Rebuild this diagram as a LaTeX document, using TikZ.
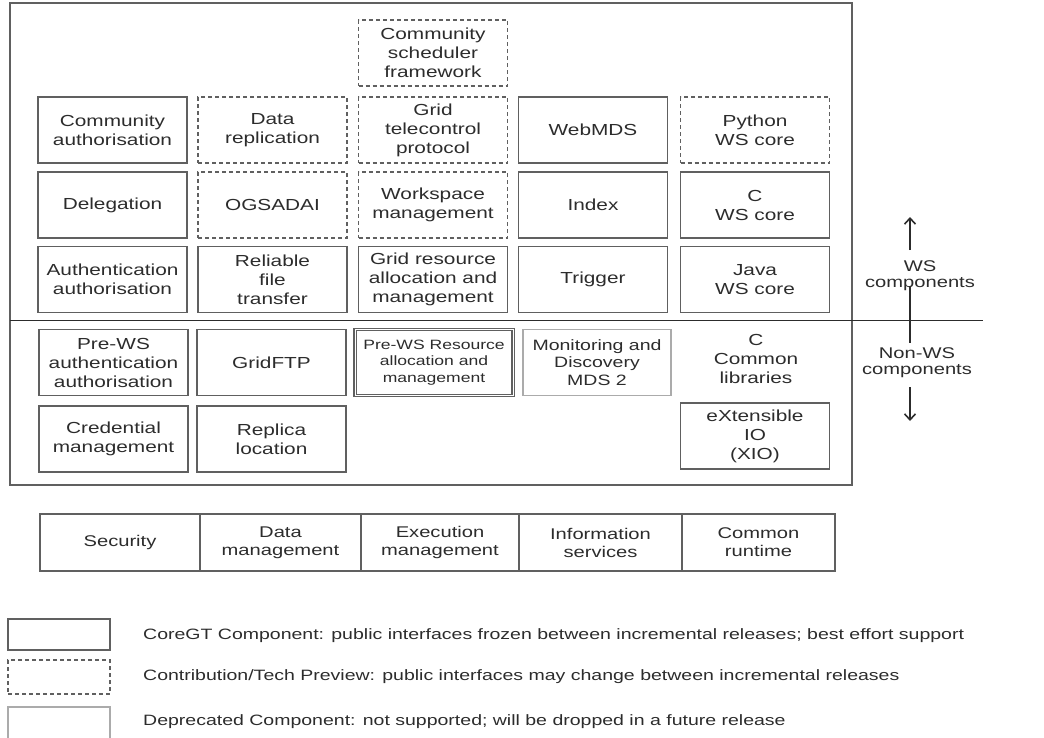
\documentclass[tikz,border=0pt]{standalone}
\usepackage{fontspec}
\setmainfont{Liberation Sans}[FakeStretch=1.3]
\usetikzlibrary{arrows.meta}
\definecolor{linec}{HTML}{606060}
\definecolor{textc}{HTML}{2C2C2C}
\definecolor{deprc}{HTML}{ABABAB}
\tikzset{
  comp/.style={draw=linec, line width=1.5pt, minimum width=149pt, minimum height=66pt,
    align=center, inner sep=0pt, text=textc, font=\fontsize{16}{19}\selectfont},
  contrib/.style={comp, dash pattern=on 4pt off 3pt},
  deprec/.style={comp, draw=deprc, line width=1.2pt},
  prews/.style={comp, double=white, double distance=0.9pt, line width=1.1pt},
  plain/.style={align=center, inner sep=0pt, text=textc, font=\fontsize{16}{19}\selectfont},
  side/.style={align=center, inner sep=0pt, text=textc, font=\fontsize{15.5}{16}\selectfont},
  cell/.style={draw=linec, line width=1.5pt, minimum height=57pt, align=center, inner sep=0pt,
    text=textc, font=\fontsize{15.5}{18}\selectfont},
  legbox/.style={draw=linec, line width=1.5pt, minimum width=102pt, inner sep=0pt},
  legtext/.style={anchor=west, inner sep=0pt, text=textc, font=\fontsize{15}{18}\selectfont},
  frame/.style={draw=linec, line width=1.6pt},
  arr/.style={draw=textc, line width=1.8pt, -{Straight Barb[length=6pt,width=11pt,line width=1.6pt]}}
}
\begin{document}
\begin{tikzpicture}[x=1pt,y=-1pt]
\useasboundingbox (0,0) rectangle (1044,737);
% outer frame and divider
\draw[frame] (10,3) rectangle (852,485);
\coordinate (dl) at (10,320.5);
\coordinate (dr) at (983,320.5);
\draw[frame, draw=textc, line width=1.8pt] (dl) -- (dr);
% WS components
\node[contrib] (csf) at (433,53) {Community\\scheduler\\framework};
\node[comp] (ca) at (112.5,130) {Community\\authorisation};
\node[contrib] (dr1) at (272.5,130) {Data\\replication};
\node[contrib] (gtp) at (433,130) {Grid\\telecontrol\\protocol};
\node[comp] (wmds) at (593,130) {WebMDS};
\node[contrib] (pyws) at (755,130) {Python\\WS core};
\node[comp] (del) at (112.5,205) {Delegation};
\node[contrib] (ogsa) at (272.5,205) {OGSADAI};
\node[contrib] (wsm) at (433,205) {Workspace\\management};
\node[comp] (idx) at (593,205) {Index};
\node[comp] (cws) at (755,205) {C\\WS core};
\node[comp] (aa) at (112.5,279.5) {Authentication\\authorisation};
\node[comp] (rft) at (272.5,279.5) {Reliable\\file\\transfer};
\node[comp] (gram) at (433,279.5) {Grid resource\\allocation and\\management};
\node[comp] (trig) at (593,279.5) {Trigger};
\node[comp] (jws) at (755,279.5) {Java\\WS core};
% Non-WS components
\node[comp] (pwaa) at (113.5,362.5) {Pre-WS\\authentication\\authorisation};
\node[comp] (gftp) at (271.5,362.5) {GridFTP};
\node[prews, minimum width=158pt, font=\fontsize{13.5}{16.5}\selectfont] (pwra) at (434,362.5) {Pre-WS Resource\\allocation and\\management};
\node[deprec, minimum width=148pt, font=\fontsize{15}{17.5}\selectfont] (mds) at (597,362.5) {Monitoring and\\Discovery\\MDS 2};
\node[plain] (ccl) at (756,359) {C\\Common\\libraries};
\node[comp] (cm) at (113.5,439) {Credential\\management};
\node[comp] (rl) at (271.5,439) {Replica\\location};
\node[comp] (xio) at (755,436) {eXtensible\\IO\\(XIO)};
% side arrows
\coordinate (ua1) at (910,250);
\coordinate (ua2) at (910,217);
\draw[arr] (ua1) -- (ua2);
\node[side] (wsl) at (920,276) {WS\\components};
\coordinate (v1) at (910,286);
\coordinate (v2) at (910,343);
\draw[draw=textc, line width=1.8pt] (v1) -- (v2);
\node[side] (nwsl) at (917,363) {Non-WS\\components};
\coordinate (da1) at (910,387);
\coordinate (da2) at (910,421);
\draw[arr] (da1) -- (da2);
% category table
\node[cell, minimum width=160pt] (sec) at (120,542.5) {Security};
\node[cell, minimum width=161pt] (dm) at (280.5,542.5) {Data\\management};
\node[cell, minimum width=158pt] (em) at (440,542.5) {Execution\\management};
\node[cell, minimum width=163pt] (is) at (600.5,542.5) {Information\\services};
\node[cell, minimum width=153pt] (cr) at (758.5,542.5) {Common\\runtime};
% legend
\node[legbox, minimum height=31pt] (lg1) at (59,634.5) {};
\node[legbox, minimum height=34pt, dash pattern=on 4pt off 3pt] (lg2) at (59,677) {};
\node[legbox, minimum height=40pt, draw=deprc, line width=1.2pt] (lg3) at (59,727) {};
\node[legtext] (lt1) at (143,636) {CoreGT Component: public interfaces frozen between incremental releases; best effort support};
\node[legtext] (lt2) at (143,677) {Contribution/Tech Preview: public interfaces may change between incremental releases};
\node[legtext] (lt3) at (143,722) {Deprecated Component: not supported; will be dropped in a future release};
\end{tikzpicture}
\end{document}
